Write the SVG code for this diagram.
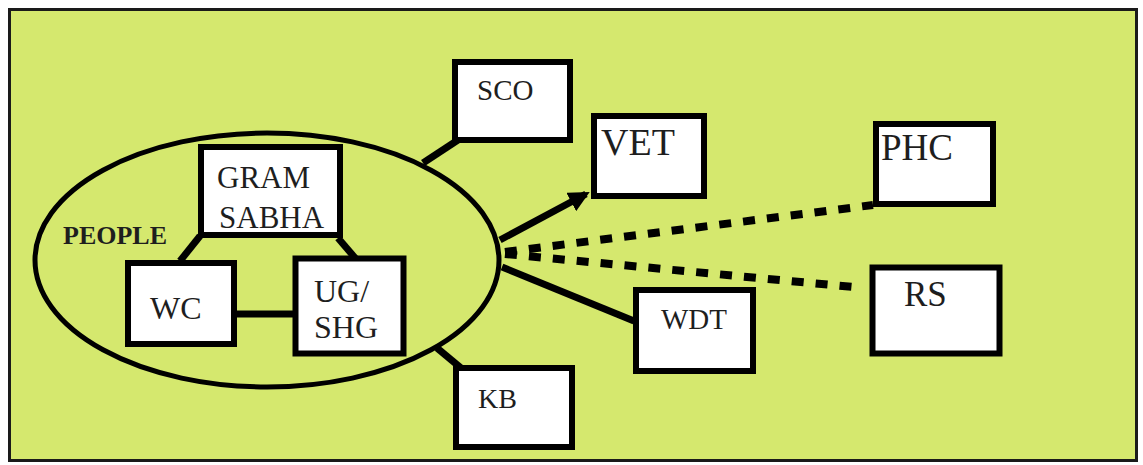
<svg xmlns="http://www.w3.org/2000/svg" width="1143" height="465" viewBox="0 0 1143 465">
<style>
.box{fill:#fff;stroke:#000;stroke-width:6}
.t{font-family:"Liberation Serif",serif;fill:#1e1e1e}
.c{stroke:#000;stroke-width:7;fill:none}
.d{stroke:#000;stroke-width:8;fill:none;stroke-dasharray:12 12}
</style>
<defs>
<marker id="ah" viewBox="0 0 10 10" refX="8" refY="5" markerWidth="3" markerHeight="3" orient="auto">
<path d="M0,0 L10,5 L0,10 z" fill="#000"/>
</marker>
</defs>
<rect x="0" y="0" width="1143" height="465" fill="#fff"/>
<rect x="9.5" y="9.5" width="1127" height="451" fill="#d5e86e" stroke="#1a1a1a" stroke-width="3"/>
<g id="connectors">
<line class="c" x1="200" y1="236" x2="180" y2="261"/>
<line class="c" x1="338" y1="238" x2="356" y2="259"/>
<line class="c" x1="236" y1="314" x2="294" y2="314"/>
<line class="c" x1="423" y1="163" x2="461" y2="138" stroke-width="10"/>
<line class="c" x1="437" y1="348" x2="461" y2="368" stroke-width="10"/>
<line class="c" x1="500" y1="240" x2="586" y2="194" stroke-width="6" marker-end="url(#ah)"/>
<line class="c" x1="502" y1="267" x2="634" y2="321"/>
<line class="d" x1="505" y1="252" x2="873" y2="205"/>
<line class="d" x1="505" y1="254" x2="853" y2="287"/>
</g>
<g id="people">
<ellipse cx="267" cy="260" rx="232" ry="127" fill="none" stroke="#000" stroke-width="5"/>
<text class="t" x="63" y="244" font-size="26" font-weight="bold" fill="#1a2810">PEOPLE</text>
</g>
<g id="gram-sabha">
<rect class="box" x="201" y="147" width="139" height="88"/>
<text class="t" x="217" y="188" font-size="31">GRAM</text>
<text class="t" x="219" y="228" font-size="31">SABHA</text>
</g>
<g id="wc">
<rect class="box" x="128" y="263" width="106" height="81" stroke-width="7"/>
<text class="t" x="150" y="319" font-size="32">WC</text>
</g>
<g id="ug-shg">
<rect class="box" x="295.5" y="258.5" width="108" height="95" stroke-width="7"/>
<text class="t" x="314" y="302" font-size="32">UG/</text>
<text class="t" x="314" y="338" font-size="32">SHG</text>
</g>
<g id="sco">
<rect class="box" x="455" y="62" width="115" height="78"/>
<text class="t" x="477" y="100" font-size="29">SCO</text>
</g>
<g id="vet">
<rect class="box" x="594" y="116" width="110" height="80" stroke-width="8"/>
<text class="t" x="601" y="155" font-size="38">VET</text>
</g>
<g id="wdt">
<rect class="box" x="636" y="290" width="117" height="81"/>
<text class="t" x="661" y="329" font-size="29">WDT</text>
</g>
<g id="kb">
<rect class="box" x="456" y="368" width="116" height="79"/>
<text class="t" x="478" y="408" font-size="28">KB</text>
</g>
<g id="phc">
<rect class="box" x="876" y="124" width="117" height="80"/>
<text class="t" x="881" y="160" font-size="37">PHC</text>
</g>
<g id="rs">
<rect class="box" x="872.5" y="267.5" width="127" height="86" stroke-width="9"/>
<text class="t" x="904" y="306" font-size="35">RS</text>
</g>
</svg>
